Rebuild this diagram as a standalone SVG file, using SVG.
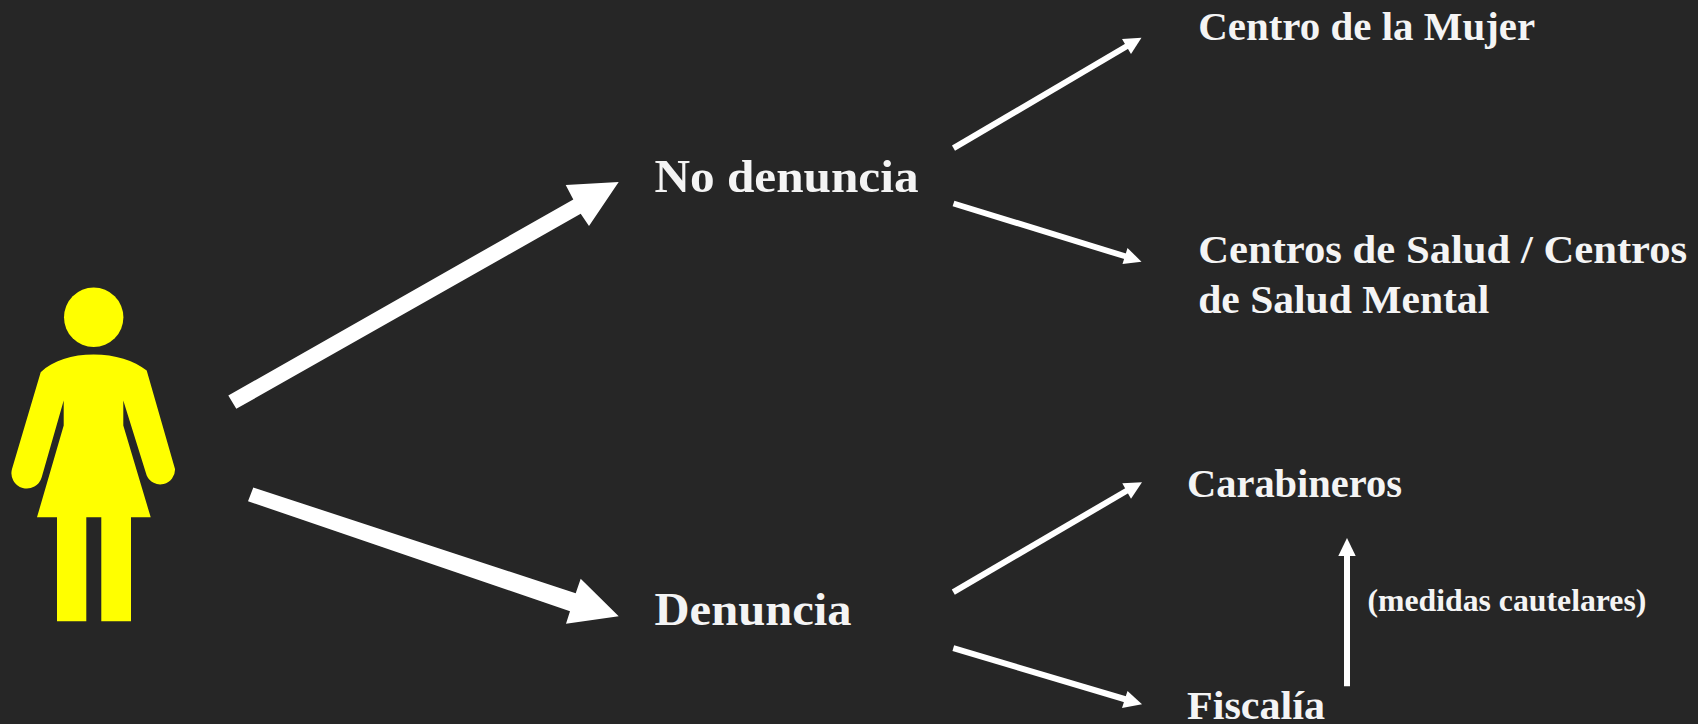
<svg xmlns="http://www.w3.org/2000/svg" width="1698" height="724" viewBox="0 0 1698 724">
<style>
.t{font-family:"Liberation Serif","Times New Roman",serif;font-weight:bold;fill:#f4f4f4}
.l{font-size:47px}.m{font-size:40px}.s{font-size:31px}
.c{fill:#fff;stroke:none}
.a{stroke:#fff;stroke-width:6;fill:none}
</style>
<rect width="1698" height="724" fill="#262626"/>
<g id="person" fill="#ffff00" transform="translate(0 0.6)">
<circle cx="93.7" cy="316.7" r="29.7"/>
<path d="M93.7 354C115 354 134 360 146.7 370L175 468.3A14.8 14.8 0 0 1 146.7 475L123.3 400V425L150.7 516.7H131V620.7H101.3V516.7H86.3V620.7H57V516.7H37L63.7 425V400L41.7 476.7A14.8 14.8 0 0 1 12 468.3L40.7 371.7C53 360 72 354 93.7 354Z"/>
</g>
<g id="connectors">
<polygon class="c" points="228.3,395.5 573.3,199.5 565.7,185 618.7,182 589,226 580.7,213.8 236.3,408.8"/>
<polygon class="c" points="253.3,487.5 575.7,593.2 580.7,578.8 618.7,616.2 566,623.8 570,611.2 248,501.2"/>
<line class="a" x1="953.5" y1="148.2" x2="1128" y2="45.5"/>
<polygon class="c" points="1141.5,37.7 1122,39 1131,54"/>
<line class="a" x1="953.5" y1="203.5" x2="1126" y2="256.5"/>
<polygon class="c" points="1141.5,261.7 1122.5,264 1127.5,248"/>
<line class="a" x1="953.3" y1="592.2" x2="1128" y2="490"/>
<polygon class="c" points="1142,482.3 1122.3,483.3 1131,498.7"/>
<line class="a" x1="953.3" y1="648.2" x2="1126" y2="699.5"/>
<polygon class="c" points="1142,704.3 1122,708 1127.5,691"/>
<line class="a" x1="1347" y1="686.2" x2="1347" y2="554"/>
<polygon class="c" points="1347,538 1338.3,556 1355.7,556"/>
</g>
<g id="node-no-denuncia"><text class="t l" x="654.5" y="192" textLength="264" lengthAdjust="spacingAndGlyphs">No denuncia</text></g>
<g id="node-denuncia"><text class="t l" x="654.5" y="625" textLength="197" lengthAdjust="spacingAndGlyphs">Denuncia</text></g>
<g id="node-centro-mujer"><text class="t m" x="1198.2" y="40.3" textLength="337" lengthAdjust="spacingAndGlyphs">Centro de la Mujer</text></g>
<g id="node-centros-salud"><text class="t m" x="1198.2" y="262.7" textLength="489" lengthAdjust="spacingAndGlyphs">Centros de Salud / Centros</text><text class="t m" x="1198.2" y="312.7" textLength="291" lengthAdjust="spacingAndGlyphs">de Salud Mental</text></g>
<g id="node-carabineros"><text class="t m" x="1187" y="497.3" textLength="215" lengthAdjust="spacingAndGlyphs">Carabineros</text></g>
<g id="node-fiscalia"><text class="t m" x="1187" y="719.3" textLength="138" lengthAdjust="spacingAndGlyphs">Fiscalía</text></g>
<g id="label-medidas"><text class="t s" x="1367.4" y="610.5" textLength="279" lengthAdjust="spacingAndGlyphs">(medidas cautelares)</text></g>
</svg>
